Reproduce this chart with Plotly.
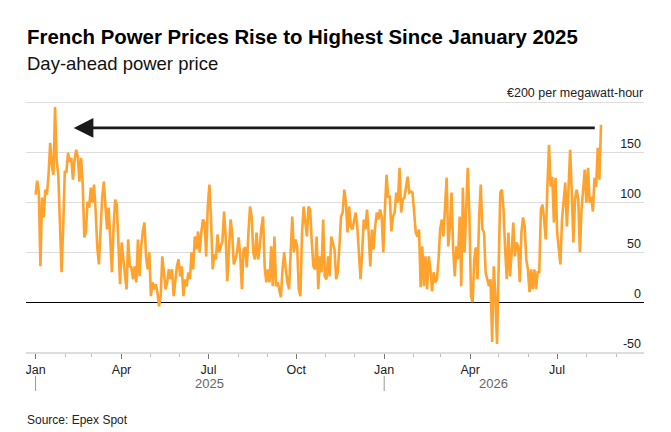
import plotly.graph_objects as go
import pandas as pd

# 法国日前电价（欧元/兆瓦时），2025-01-01 至 2026-08-16
prices = [
    # 2025 年 1 月 - 3 月
    108, 122, 111, 36, 105, 85, 113, 108, 128, 160, 138, 128, 196, 141, 128, 68,
    30, 75, 131, 131, 150, 141, 145, 123, 143, 153, 146, 121, 145, 120, 65, 71,
    101, 95, 115, 100, 118, 91, 55, 38, 75, 105, 121, 98, 73, 95, 61, 30,
    75, 103, 98, 58, 18, 60, 41, 28,
    # 2025 年 4 月 - 6 月
    13, 63, 36, 35, 23, 36, 20, 63, 26, 56, 71, 80, 46, 33, 50, 6,
    20, 13, 18, 10, -4, 6, 46, 30, 13, 20, 33, 23, 33, 6, 23, 36,
    43, 26, 36, 6, 23, 16, 30, 23, 50, 33, 66, 53, 71, 50, 70, 83,
    80, 46, 96, 118, 83, 33, 48, 43,
    # 2025 年 7 月 - 9 月
    68, 50, 56, 61, 91, 66, 21, 53, 83, 70, 38, 43, 50, 65, 46, 13,
    53, 55, 35, 70, 96, 86, 50, 43, 70, 43, 56, 75, 86, 36, 20, 33,
    20, 56, 16, 66, 16, 20, 13, 5, 33, 50, 33, 20, 13, 50, 86, 50,
    63, 56, 13, 6, 70, 96, 83, 66,
    # 2025 年 10 月 - 12 月
    96, 93, 60, 36, 33, 66, 13, 46, 30, 83, 26, 23, 46, 26, 66, 60,
    53, 23, 30, 56, 86, 90, 113, 100, 70, 96, 76, 73, 80, 90, 76, 53,
    23, 50, 83, 73, 93, 70, 36, 73, 53, 76, 90, 83, 93, 86, 50, 93,
    128, 106, 106, 71, 86, 90, 110, 100,
    # 2026 年 1 月 - 4 月
    135, 90, 103, 105, 116, 126, 110, 111, 110, 86, 70, 66, 73, 15, 56, 16,
    46, 13, 46, 33, 11, 30, 20, 23, 43, 73, 83, 66, 100, 125, 56, 76,
    110, 53, 26, 56, 43, 86, 16, 115, 50, 86, 135, 86, 6, 0, 43, 55,
    23, 86, 118, 73, 70, 30, 23, 16, 23,
    # 2026 年 5 月 负电价
    -40, 36, 6, -42, 33,
    # 2026 年 5 月 - 8 月
    110, 113, 93, 53, 23, 70, 26, 50, 80, 46, 60, 56, 20, 70, 85, 76,
    43, 33, 10, 33, 13, 33, 13, 30, 30, 93, 98, 83, 63, 116, 158, 116,
    126, 80, 125, 70, 56, 38, 83, 100, 120, 76, 116, 153, 110, 60, 103, 113,
    103, 50, 93, 113, 133, 100, 135, 100, 106, 91, 125, 116, 155, 123, 178,
]
start_date = "2025-01-01"
end_date = "2026-08-16"
dates = pd.date_range(start_date, end_date, periods=len(prices))

y_tick_vals = [-50, 0, 50, 100, 150, 200]
y_tick_text = ["-50", "0", "50", "100", "150", ""]
unit_label = "€200 per megawatt-hour"

year_labels = ["2025", "2026"]
year_label_dates = ["2025-07-02", "2026-04-25"]
year_starts = ["2025-01-01", "2026-01-01"]

arrow_level = 175
arrow_from = "2026-08-11"
arrow_to = "2025-02-10"

x_range = ["2024-12-22", "2026-09-30"]
y_range = [-50, 202]

FONT = "Liberation Sans, Arial, sans-serif"
ORANGE = "#FFA22E"

# 页面左上角有 8px 的留白，所有参考像素减去 8
OFF = 8
W, H = 671 - OFF, 432 - OFF
L, R, T, B = 26 - OFF, 644 - OFF, 101 - OFF, 352 - OFF


def py(y):
    return (B - (y - OFF)) / (B - T)


def pxx(x):
    return ((x - OFF) - L) / (R - L)


fig = go.Figure()
fig.add_trace(go.Scatter(
    x=dates, y=prices, mode="lines",
    line=dict(color=ORANGE, width=2.6),
    hoverinfo="skip",
))

annotations = [
    dict(text="<b>French Power Prices Rise to Highest Since January 2025</b>",
         x=pxx(25), y=py(37), xanchor="left", yanchor="middle",
         font=dict(size=20.4, color="#000000")),
    dict(text="Day-ahead power price",
         x=pxx(25), y=py(64), xanchor="left", yanchor="middle",
         font=dict(size=18.5, color="#111111")),
    dict(text=unit_label,
         x=pxx(645), y=py(93), xanchor="right", yanchor="middle",
         font=dict(size=12.5, color="#222222")),
    dict(text="Source: Epex Spot",
         x=pxx(25), y=py(420), xanchor="left", yanchor="middle",
         font=dict(size=12, color="#222222")),
]
for lab, d in zip(year_labels, year_label_dates):
    annotations.append(dict(
        text=lab, x=d, xref="x", y=py(383), xanchor="center", yanchor="middle",
        font=dict(size=13, color="#666666"),
    ))
for a in annotations:
    a.setdefault("xref", "paper")
    a["yref"] = "paper"
    a["showarrow"] = False

# 箭头
annotations.append(dict(
    x=arrow_to, y=arrow_level, ax=arrow_from, ay=arrow_level,
    xref="x", yref="y", axref="x", ayref="y",
    text="", showarrow=True, arrowhead=2, arrowsize=1.4,
    arrowwidth=2.8, arrowcolor="#1a1a1a",
))

shapes = []
for d in year_starts:
    shapes.append(dict(
        type="line", xref="x", yref="paper", x0=d, x1=d,
        y0=py(376), y1=py(391), line=dict(color="#999999", width=1),
    ))

fig.update_layout(
    width=W, height=H,
    margin=dict(l=L, r=W - R, t=T, b=H - B),
    plot_bgcolor="white", paper_bgcolor="white",
    font=dict(family=FONT, color="#222222"),
    showlegend=False,
    annotations=annotations,
    shapes=shapes,
    xaxis=dict(
        type="date", range=x_range,
        showgrid=False, zeroline=False,
        showline=True, linecolor="#dddddd", linewidth=2,
        ticks="outside", ticklen=5, tickcolor="#777777", tickwidth=1,
        tick0="2025-01-01", dtick="M3", tickformat="%b",
        tickfont=dict(size=12.5, color="#222222"),
        minor=dict(ticks="outside", ticklen=3, tickcolor="#bbbbbb",
                   dtick="M1", tick0="2025-01-01", showgrid=False),
    ),
    yaxis=dict(
        range=y_range, side="right",
        tickvals=y_tick_vals, ticktext=y_tick_text,
        ticklabelposition="inside top", ticks="",
        showgrid=True, gridcolor="#dddddd", gridwidth=1,
        zeroline=True, zerolinecolor="#000000", zerolinewidth=1,
        tickfont=dict(size=12.5, color="#222222"),
    ),
)

fig.write_html("out.html")
